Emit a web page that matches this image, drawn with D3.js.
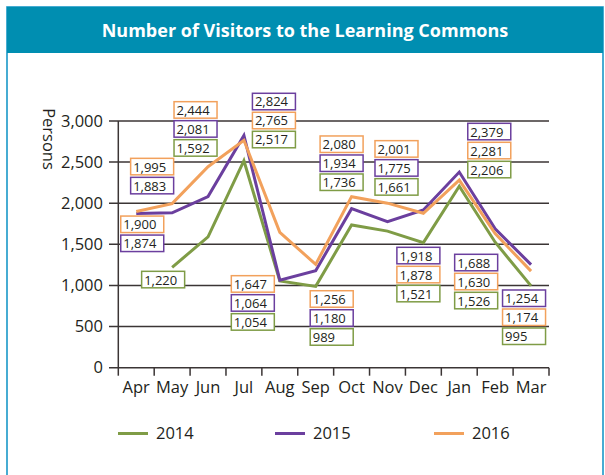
<!DOCTYPE html>
<html>
<head>
<meta charset="utf-8">
<script src="https://cdn.jsdelivr.net/npm/d3@7"></script>
<style>
  html, body { margin: 0; padding: 0; background: #fff; }
  svg { display: block; font-family: "Open Sans", "Noto Sans", sans-serif; }
</style>
</head>
<body>
<svg id="chart" width="605" height="475"></svg>
<script>
// ---- Data ----
const months = ["Apr", "May", "Jun", "Jul", "Aug", "Sep", "Oct", "Nov", "Dec", "Jan", "Feb", "Mar"];
const visitors2014 = [null, 1220, 1592, 2517, 1054, 989, 1736, 1661, 1521, 2206, 1526, 995];
const visitors2015 = [1874, 1883, 2081, 2824, 1064, 1180, 1934, 1775, 1918, 2379, 1688, 1254];
const visitors2016 = [1900, 1995, 2444, 2765, 1647, 1256, 2080, 2001, 1878, 2281, 1630, 1174];
const seriesNames = ["2014", "2015", "2016"];
const yTicks = [0, 500, 1000, 1500, 2000, 2500, 3000];
const titleText = "Number of Visitors to the Learning Commons";
const yAxisTitle = "Persons";

// ---- Styles ----
const colors = ["#7f9c46", "#6b3f9e", "#f2a15c"];
const gridColor = "#3b3535";
const teal = "#008eb1";

// Label stacks (annotation layout: which month, horizontal nudge, top in data units, series order)
const labelStacks = [
  { m: 0, dx: 6, top: 1844, order: [2, 1] },
  { m: 1, dx: -20, top: 2546, order: [2, 1] },
  { m: 1, dx: -9, top: 1172, order: [0] },
  { m: 2, dx: -12.5, top: 3235, order: [2, 1, 0] },
  { m: 3, dx: 30, top: 3337, order: [1, 2, 0] },
  { m: 4, dx: -27, top: 1119, order: [2, 1, 0] },
  { m: 5, dx: 16, top: 936, order: [2, 1, 0] },
  { m: 6, dx: -10, top: 2818, order: [2, 1, 0] },
  { m: 7, dx: 9, top: 2761, order: [2, 1, 0] },
  { m: 8, dx: -5, top: 1464, order: [1, 2, 0] },
  { m: 9, dx: 30, top: 2972, order: [1, 2, 0] },
  { m: 10, dx: -19, top: 1379, order: [1, 2, 0] },
  { m: 11, dx: -7, top: 945, order: [1, 2, 0] }
];

const series = [visitors2014, visitors2015, visitors2016];

const svg = d3.select("#chart");

// Frame and title bar
svg.append("rect").attr("x", 7).attr("y", 7).attr("width", 596).attr("height", 480)
  .attr("fill", "#fff").attr("stroke", "#1a98c8").attr("stroke-width", 1.6);
svg.append("rect").attr("x", 7).attr("y", 7).attr("width", 596).attr("height", 46)
  .attr("fill", teal);
svg.append("text").attr("x", 305).attr("y", 37).attr("text-anchor", "middle")
  .attr("fill", "#fff").attr("font-weight", "bold").attr("font-size", 18)
  .text(titleText);

// Scales
const x = d3.scaleBand().domain(months).range([118.3, 549]).padding(0);
const y = d3.scaleLinear().domain([0, 3000]).range([367.7, 121]);

// Grid lines (with left ticks)
const gridG = svg.append("g");
gridG.selectAll("line").data(yTicks).join("line")
  .attr("x1", 109).attr("x2", 549)
  .attr("y1", d => y(d)).attr("y2", d => y(d))
  .attr("stroke", gridColor).attr("stroke-width", 1.5);

// Y axis labels
svg.append("g").selectAll("text").data(yTicks).join("text")
  .attr("x", 103).attr("y", d => y(d)).attr("dy", "0.35em")
  .attr("text-anchor", "end").attr("font-size", 16.5).attr("fill", "#231f20")
  .text(d => d3.format(",")(d));

// Y axis vertical line
svg.append("line").attr("x1", 118.3).attr("x2", 118.3)
  .attr("y1", y(3000)).attr("y2", y(0) + 8)
  .attr("stroke", gridColor).attr("stroke-width", 1.5);

// X ticks at band boundaries
const boundaries = months.map(m => x(m)).concat([x(months[months.length - 1]) + x.bandwidth()]);
svg.append("g").selectAll("line").data(boundaries.slice(1)).join("line")
  .attr("x1", d => d).attr("x2", d => d)
  .attr("y1", y(0)).attr("y2", y(0) + 8)
  .attr("stroke", gridColor).attr("stroke-width", 1.5);

// X labels
svg.append("g").selectAll("text").data(months).join("text")
  .attr("x", d => x(d) + x.bandwidth() / 2).attr("y", 393)
  .attr("text-anchor", "middle").attr("font-size", 16.5).attr("fill", "#231f20")
  .text(d => d);

// Y title
svg.append("text").attr("transform", "translate(43,139) rotate(90)")
  .attr("text-anchor", "middle").attr("font-size", 16.5).attr("fill", "#231f20")
  .text(yAxisTitle);

// Lines
const line = d3.line()
  .defined(d => d.v != null)
  .x(d => x(d.m) + x.bandwidth() / 2)
  .y(d => y(d.v));

series.forEach((s, i) => {
  svg.append("path")
    .datum(months.map((m, j) => ({ m, v: s[j] })))
    .attr("fill", "none").attr("stroke", colors[i]).attr("stroke-width", 3)
    .attr("d", line);
});

// Value label boxes
const fmt = d3.format(",");
const boxW = 43, boxH = 16.5, boxStep = 19;
labelStacks.forEach(st => {
  const cx = x(months[st.m]) + x.bandwidth() / 2 + st.dx;
  const top0 = y(st.top);
  st.order.forEach((si, k) => {
    const g = svg.append("g").attr("transform", `translate(${cx - boxW / 2},${top0 + k * boxStep})`);
    g.append("rect").attr("width", boxW).attr("height", boxH)
      .attr("fill", "#fff").attr("stroke", colors[si]).attr("stroke-width", 1.5);
    g.append("text").attr("x", 2.5).attr("y", 13.2).attr("font-size", 13).attr("fill", "#231f20")
      .text(fmt(series[si][st.m]));
  });
});

// Legend
const legendX = [118, 275, 434];
seriesNames.forEach((n, i) => {
  const g = svg.append("g").attr("transform", `translate(${legendX[i]},433.5)`);
  g.append("line").attr("x1", 0).attr("x2", 30).attr("stroke", colors[i]).attr("stroke-width", 3);
  g.append("text").attr("x", 38).attr("dy", "0.35em").attr("font-size", 16.5).attr("fill", "#231f20").text(n);
});
</script>
</body>
</html>
